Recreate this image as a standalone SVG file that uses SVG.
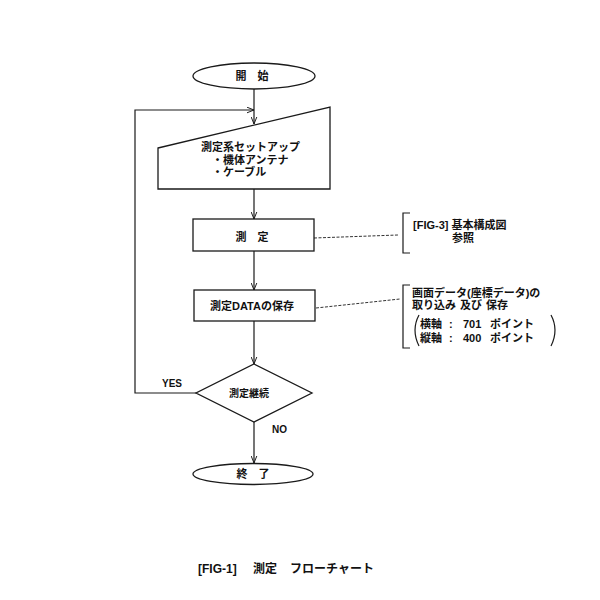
<svg xmlns="http://www.w3.org/2000/svg" width="600" height="600" viewBox="0 0 600 600">
<style>
.s{fill:#fff;stroke:#1a1a1a;stroke-width:1.3}
.ln{fill:none;stroke:#1a1a1a;stroke-width:1.2}
.dash{fill:none;stroke:#333;stroke-width:1;stroke-dasharray:3 1.5}
.t{font-family:"Liberation Sans","Noto Sans CJK JP",sans-serif;font-size:11px;font-weight:700;fill:#111}
.m{text-anchor:middle}
</style>
<defs>
<marker id="a" viewBox="0 0 10 10" refX="10" refY="5" markerWidth="7" markerHeight="7" orient="auto" markerUnits="userSpaceOnUse">
<path d="M0,1 L10,5 L0,9" fill="none" stroke="#1a1a1a" stroke-width="1.4"/>
</marker>
</defs>
<rect width="600" height="600" fill="#fff"/>
<g id="connectors">
<line class="ln" x1="254" y1="89" x2="254" y2="124" marker-end="url(#a)"/>
<polyline class="ln" points="196,393 135,393 135,110 254,110" marker-end="url(#a)"/>
<line class="ln" x1="254" y1="189" x2="254" y2="219" marker-end="url(#a)"/>
<line class="ln" x1="254" y1="251" x2="254" y2="290" marker-end="url(#a)"/>
<line class="ln" x1="254" y1="321" x2="254" y2="364" marker-end="url(#a)"/>
<line class="ln" x1="254" y1="422" x2="254" y2="463" marker-end="url(#a)"/>
<line class="dash" x1="314" y1="238" x2="398" y2="235"/>
<line class="dash" x1="316" y1="308" x2="400" y2="299"/>
<text class="t m" x="172" y="387" style="font-size:10px">YES</text>
<text class="t" x="272" y="433" style="font-size:10px">NO</text>
</g>
<g id="start">
<ellipse class="s" cx="254" cy="76" rx="61" ry="13"/>
<text class="t m" x="252" y="80">開　始</text>
</g>
<g id="setup">
<polygon class="s" points="158,148 330,107 330,189 158,189"/>
<text class="t" x="201" y="151">測定系セットアップ</text>
<text class="t" x="212" y="163.5">・機体アンテナ</text>
<text class="t" x="212" y="176">・ケーブル</text>
</g>
<g id="measure">
<rect class="s" x="193" y="219" width="121" height="32"/>
<text class="t m" x="252" y="241">測　定</text>
</g>
<g id="save">
<rect class="s" x="194" y="290" width="121" height="31"/>
<text class="t m" x="252" y="310">測定DATAの保存</text>
</g>
<g id="decision">
<polygon class="s" points="254,364 312,393 254,422 196,393"/>
<text class="t m" x="249" y="397" style="font-size:10px">測定継続</text>
</g>
<g id="end">
<ellipse class="s" cx="253" cy="474" rx="60" ry="10.5"/>
<text class="t m" x="253" y="478">終　了</text>
</g>
<g id="note1">
<path class="ln" d="M410,213 H403 V253 H410"/>
<text class="t" x="413" y="229">[FIG-3] 基本構成図</text>
<text class="t" x="452" y="241.5">参照</text>
</g>
<g id="note2">
<path class="ln" d="M410,285 H403 V348 H410"/>
<text class="t" x="412" y="296.5">画面データ(座標データ)の</text>
<text class="t" x="412" y="309">取り込み<tspan x="460">及び</tspan><tspan x="486">保存</tspan></text>
<path class="ln" d="M419,315 Q411,330 419,346"/>
<path class="ln" d="M551,315 Q559,330 551,346"/>
<text class="t" x="420" y="328">横軸<tspan x="449">:</tspan><tspan x="463">701</tspan><tspan x="490">ポイント</tspan></text>
<text class="t" x="420" y="342">縦軸<tspan x="449">:</tspan><tspan x="463">400</tspan><tspan x="490">ポイント</tspan></text>
</g>
<g id="caption">
<text class="t" x="198" y="573" style="font-size:12px">[FIG-1]<tspan x="253">測定</tspan><tspan x="290">フローチャート</tspan></text>
</g>
</svg>
